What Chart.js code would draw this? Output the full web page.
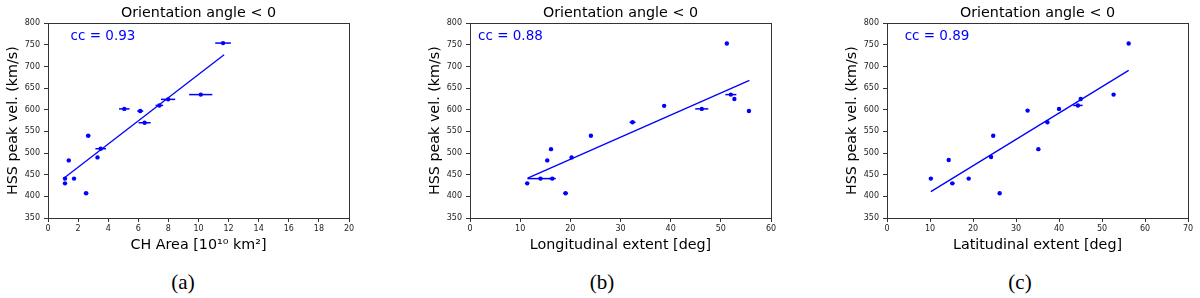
<!DOCTYPE html>
<html>
<head>
<meta charset="utf-8">
<script src="https://cdn.jsdelivr.net/npm/chart.js@4/dist/chart.umd.min.js"></script>
<style>
    body { margin: 0; background: #fff; width: 1200px; height: 298px; position: relative; overflow: hidden; }
    canvas { position: absolute; top: 0; }
    .caption { position: absolute; top: 270px; font-family: 'Liberation Serif', 'Times New Roman', serif; font-size: 21px; color: #000; transform: translateX(-50%); }
</style>
</head>
<body>
<canvas id="grafic-a" width="360" height="260" style="left:0px"></canvas>
<canvas id="grafic-b" width="360" height="260" style="left:422px"></canvas>
<canvas id="grafic-c" width="360" height="260" style="left:839px"></canvas>
<div class="caption" style="left:183px">(a)</div>
<div class="caption" style="left:602px">(b)</div>
<div class="caption" style="left:1020px">(c)</div>

<script>
// (a) CH area
var areaX = [1.13, 1.13, 1.38, 1.73, 2.53, 2.67, 3.29, 3.5, 5.07, 6.13, 6.42, 7.4, 7.98, 10.15, 11.63];
var areaY = [441, 430, 483, 441, 407, 540, 490, 510, 602, 597, 570, 610, 624, 635, 754];
var areaErr = [0.05, 0.05, 0.05, 0.1, 0.15, 0.15, 0.1, 0.35, 0.35, 0.2, 0.4, 0.25, 0.47, 0.77, 0.52];
var areaFitX = [1.05, 11.7];
var areaFitY = [442, 727];

// (b) longitudinal extent
var lonX = [11.4, 14.05, 16.4, 15.4, 16.15, 19.05, 20.25, 24.1, 32.4, 38.7, 46.2, 51.2, 52.0, 52.7, 55.6];
var lonY = [430, 441, 441, 483, 509, 407, 490, 540, 571, 609, 602, 753, 635, 625, 597];
var lonErr = [0.1, 2.6, 0.7, 0.1, 0.1, 0.5, 0.2, 0.1, 0.6, 0.1, 1.3, 0.1, 1.1, 0.2, 0.1];
var lonFitX = [11.5, 55.7];
var lonFitY = [442, 668];

// (c) latitudinal extent
var latX = [10.2, 14.35, 15.2, 19.0, 24.2, 24.7, 26.2, 32.7, 35.2, 37.3, 40.0, 44.4, 45.05, 52.7, 56.2];
var latY = [441, 484, 430, 441, 491, 540, 407, 598, 509, 571, 602, 610, 625, 635, 753];
var latErr = [0.1, 0.1, 0.5, 0.1, 0.4, 0.1, 0.1, 0.1, 0.1, 0.3, 0.1, 1.1, 0.2, 0.1, 0.1];
var latFitX = [10.2, 56.2];
var latFitY = [411, 691];

var velTicks = [350, 400, 450, 500, 550, 600, 650, 700, 750, 800];
var titol = 'Orientation angle < 0';
var etiquetaY = 'HSS peak vel. (km/s)';

var blau = '#0000ff';
var tipus = "'DejaVu Sans', sans-serif";

function punts(xs, ys, errs) {
    var res = [];
    for (var i = 0; i < xs.length; i++) {
        res.push({ x: xs[i], y: ys[i], err: errs ? errs[i] : 0 });
    }
    return res;
}

// horizontal error bars, box around the plot and the cc label
var extres = {
    id: 'extres',
    afterDatasetsDraw: function(chart) {
        var ctx = chart.ctx;
        var sx = chart.scales.x;
        var sy = chart.scales.y;
        var dades = chart.data.datasets[0].data;
        ctx.save();
        ctx.strokeStyle = blau;
        ctx.lineWidth = 1.5;
        for (var i = 0; i < dades.length; i++) {
            var d = dades[i];
            if (!d.err) continue;
            var py = sy.getPixelForValue(d.y);
            ctx.beginPath();
            ctx.moveTo(sx.getPixelForValue(d.x - d.err), py);
            ctx.lineTo(sx.getPixelForValue(d.x + d.err), py);
            ctx.stroke();
        }
        ctx.restore();
    },
    afterDraw: function(chart) {
        var ctx = chart.ctx;
        var a = chart.chartArea;
        var o = chart.options.plugins.extres;
        ctx.save();
        ctx.strokeStyle = '#333';
        ctx.lineWidth = 1;
        ctx.strokeRect(Math.round(a.left) + 0.5, Math.round(a.top) + 0.5, Math.round(a.right - a.left), Math.round(a.bottom - a.top));
        ctx.fillStyle = blau;
        ctx.font = '13.5px ' + tipus;
        ctx.textBaseline = 'alphabetic';
        ctx.textAlign = 'left';
        ctx.fillText(o.text, chart.scales.x.getPixelForValue(o.x), chart.scales.y.getPixelForValue(o.y));
        ctx.restore();
    }
};

function crearGrafic(id, xs, ys, errs, fitX, fitY, xMax, xPas, etiquetaX, cc, ccX) {
    var ctx = document.getElementById(id).getContext('2d');
    return new Chart(ctx, {
        type: 'scatter',
        data: {
            datasets: [{
                data: punts(xs, ys, errs),
                backgroundColor: blau,
                borderColor: blau,
                pointRadius: 2.2,
                pointBorderWidth: 0
            }, {
                data: punts(fitX, fitY),
                showLine: true,
                borderColor: blau,
                borderWidth: 1.3,
                pointRadius: 0
            }]
        },
        options: {
            responsive: false,
            animation: false,
            devicePixelRatio: 1,
            layout: { padding: { left: 0, right: 11, top: 0, bottom: 0 } },
            plugins: {
                legend: { display: false },
                tooltip: { enabled: false },
                title: {
                    display: true,
                    text: titol,
                    fullSize: false,
                    color: '#000',
                    font: { family: tipus, size: 14.3, weight: 'normal' },
                    padding: { top: 5, bottom: 1 }
                },
                extres: { text: cc, x: ccX, y: 760 }
            },
            scales: {
                x: {
                    type: 'linear',
                    min: 0,
                    max: xMax,
                    afterFit: function(s) { s.height = 42; },
                    ticks: { stepSize: xPas, color: '#222', font: { family: tipus, size: 8 }, padding: 2, maxRotation: 0 },
                    grid: { drawOnChartArea: false, tickLength: 4, color: '#333' },
                    border: { display: false },
                    title: { display: true, text: etiquetaX, color: '#000', font: { family: tipus, size: 14.3 }, padding: { top: 0, bottom: 6 } }
                },
                y: {
                    min: 350,
                    max: 800,
                    afterFit: function(s) { s.width = 48; },
                    afterBuildTicks: function(s) {
                        s.ticks = velTicks.map(function(v) { return { value: v }; });
                    },
                    ticks: { color: '#222', font: { family: tipus, size: 8 }, padding: 4 },
                    grid: { drawOnChartArea: false, tickLength: 4, color: '#333' },
                    border: { display: false },
                    title: { display: true, text: etiquetaY, color: '#000', font: { family: tipus, size: 14.3 }, padding: { top: 5, bottom: 0 } }
                }
            }
        },
        plugins: [extres]
    });
}

document.addEventListener('DOMContentLoaded', function() {
    crearGrafic('grafic-a', areaX, areaY, areaErr, areaFitX, areaFitY, 20, 2, 'CH Area [10\u00B9\u2070 km\u00B2]', 'cc = 0.93', 1.5);
    crearGrafic('grafic-b', lonX, lonY, lonErr, lonFitX, lonFitY, 60, 10, 'Longitudinal extent [deg]', 'cc = 0.88', 1.6);
    crearGrafic('grafic-c', latX, latY, latErr, latFitX, latFitY, 70, 10, 'Latitudinal extent [deg]', 'cc = 0.89', 4.1);
});
</script>
</body>
</html>
